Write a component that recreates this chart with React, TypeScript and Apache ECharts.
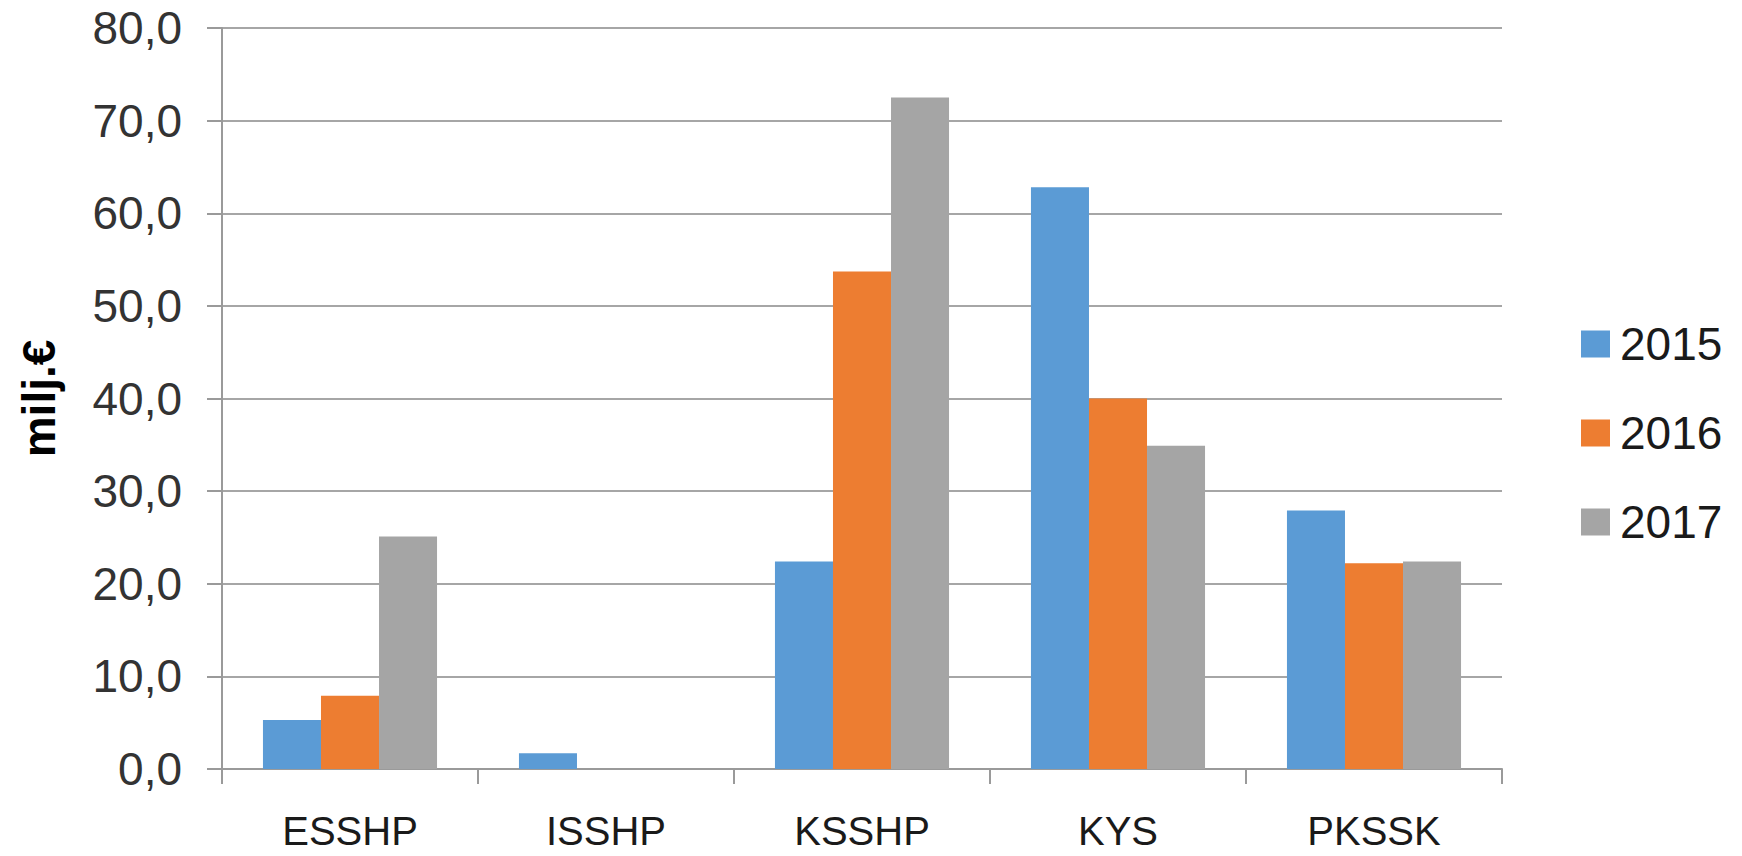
import React, { useEffect, useRef } from "react";
import * as echarts from "echarts";

const categories = ["ESSHP", "ISSHP", "KSSHP", "KYS", "PKSSK"];
const seriesNames = ["2015", "2016", "2017"];
const values2015 = [5.3, 1.7, 22.4, 62.8, 27.9];
const values2016 = [7.9, 0, 53.7, 40.0, 22.2];
const values2017 = [25.1, 0, 72.5, 34.9, 22.4];
const colors = ["#5B9BD5", "#ED7D31", "#A5A5A5"];
const yAxisTitle = "milj.€";

export default function App() {
  const ref = useRef<HTMLDivElement>(null);
  useEffect(() => {
    if (!ref.current) return;
    const chart = echarts.init(ref.current, undefined, { renderer: "svg" });
    const font = "'Liberation Sans', Arial, sans-serif";
    const data = [values2015, values2016, values2017];
    chart.setOption({
      animation: false,
      backgroundColor: "#ffffff",
      color: colors,
      textStyle: { fontFamily: font },
      grid: { left: 222, top: 28, right: 240, bottom: 87, containLabel: false },
      legend: {
        orient: "vertical",
        left: 1576,
        top: 316,
        itemWidth: 29,
        itemHeight: 27,
        itemGap: 43,
        icon: "rect",
        textStyle: { fontSize: 46, color: "#1a1a1a", fontFamily: font, padding: [0, 0, 0, 5] },
        data: seriesNames,
      },
      xAxis: {
        type: "category",
        data: categories,
        axisLine: { show: true, lineStyle: { color: "#9a9a9a", width: 2 } },
        axisTick: { show: true, length: 15, lineStyle: { color: "#9a9a9a", width: 2 } },
        axisLabel: { fontSize: 40, lineHeight: 40, color: "#1a1a1a", margin: 42, fontFamily: font },
      },
      yAxis: {
        type: "value",
        min: 0,
        max: 80,
        interval: 10,
        name: yAxisTitle,
        nameLocation: "middle",
        nameGap: 160,
        nameTextStyle: { fontSize: 46, fontWeight: "bold", color: "#000", fontFamily: font },
        axisLine: { show: true, lineStyle: { color: "#9a9a9a", width: 2 } },
        axisTick: { show: true, length: 15, lineStyle: { color: "#9a9a9a", width: 2 } },
        splitLine: { show: true, lineStyle: { color: "#a6a6a6", width: 2 } },
        axisLabel: {
          fontSize: 46,
          color: "#333",
          margin: 40,
          fontFamily: font,
          formatter: (v: number) => v.toFixed(1).replace(".", ","),
        },
      },
      series: seriesNames.map((name, i) => ({
        name,
        type: "bar",
        data: data[i],
        barGap: "0%",
        barCategoryGap: "32%",
        itemStyle: { color: colors[i] },
      })),
    });
    return () => chart.dispose();
  }, []);
  return (
    <div
      ref={ref}
      style={{ position: "fixed", left: 0, top: 0, width: 1742, height: 856 }}
    />
  );
}
